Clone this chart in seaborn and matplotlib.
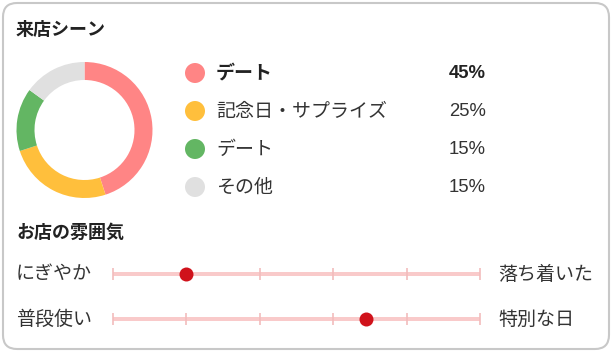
import matplotlib
matplotlib.use("Agg")
import matplotlib.pyplot as plt
import seaborn as sns
import pandas as pd
from matplotlib.patches import FancyBboxPatch

# data
scene_labels = ["デート", "記念日・サプライズ", "デート", "その他"]
scene_shares = [45, 25, 15, 15]
scene_colors = ["#ff8585", "#ffbf3c", "#63b663", "#e0e0e0"]

mood_left = ["にぎやか", "普段使い"]
mood_right = ["落ち着いた", "特別な日"]
mood_values = [1.0, 3.45]   # position on a 0-5 scale
scale_ticks = [0, 1, 2, 3, 4, 5]

sns.set_style("white")
plt.rcParams["font.family"] = ["Noto Sans CJK JP", "DejaVu Sans"]

W, H = 612, 352
fig = plt.figure(figsize=(W / 100, H / 100), dpi=100)
fig.patch.set_facecolor("white")

def px_axes(x0, y0, w, h):
    return fig.add_axes([x0 / W, 1 - (y0 + h) / H, w / W, h / H])

# base layer in pixel coords
ax = px_axes(0, 0, W, H)
ax.set_xlim(0, W)
ax.set_ylim(H, 0)
ax.axis("off")
card = FancyBboxPatch((3, 3), W - 6, H - 6,
                      boxstyle="round,pad=0,rounding_size=14",
                      fc="white", ec="#c8c8c8", lw=1.5)
ax.add_patch(card)

pt = 0.72  # px -> pt
dark = "#222222"
text = "#333333"
ax.text(16, 30, "来店シーン", fontsize=18 * pt, fontweight="bold",
        color=dark, va="center", ha="left")
ax.text(16, 233, "お店の雰囲気", fontsize=18 * pt, fontweight="bold",
        color=dark, va="center", ha="left")

# donut
cx, cy, r = 84.5, 130, 68
ax_pie = px_axes(cx - r, cy - r, 2 * r, 2 * r)
ax_pie.pie(scene_shares, colors=scene_colors, startangle=90,
           counterclock=False, radius=1,
           wedgeprops=dict(width=18 / r, edgecolor="none"))
ax_pie.set_xlim(-1, 1)
ax_pie.set_ylim(-1, 1)
ax_pie.set_aspect("equal")
ax_pie.axis("off")

# legend list
leg = pd.DataFrame({"label": scene_labels, "share": scene_shares})
leg["row"] = range(len(leg))
leg["x"] = 15
ax_leg = px_axes(180, 54, 320, 152)
ax_leg.set_xlim(0, 320)
ax_leg.set_ylim(len(leg) - 0.5, -0.5)
ax_leg.axis("off")
sns.scatterplot(data=leg, x="x", y="row", hue="row",
                palette=scene_colors, ax=ax_leg, legend=False,
                s=(20 * pt) ** 2, linewidth=0, clip_on=False)
for i, rowd in leg.iterrows():
    w = "bold" if i == 0 else "normal"
    col = dark if i == 0 else text
    ax_leg.text(36, rowd["row"], rowd["label"], fontsize=19 * pt,
                fontweight=w, color=col, va="center", ha="left")
    ax_leg.text(306, rowd["row"], f"{rowd['share']}%", fontsize=18.5 * pt,
                fontweight=w, color=col, va="center", ha="right",
                family=["Liberation Sans", "DejaVu Sans"])

# mood sliders
rows = list(range(len(mood_values)))
ax_s = px_axes(113, 251.5, 367, 90)
ax_s.set_xlim(scale_ticks[0], scale_ticks[-1])
ax_s.set_ylim(len(rows) - 0.5, -0.5)
ax_s.axis("off")
ax_s.hlines(rows, scale_ticks[0], scale_ticks[-1], color="#f9caca",
            lw=4 * pt, zorder=1)
for rr in rows:
    ax_s.vlines(scale_ticks, rr - 0.14, rr + 0.14, color="#f2bcbc",
                lw=1.2, zorder=1, clip_on=False)
sns.scatterplot(x=mood_values, y=rows, ax=ax_s, color="#d0121b",
                s=(14 * pt) ** 2, linewidth=0, zorder=3, clip_on=False)
for rr in rows:
    ax_s.text(-97 / 73.4, rr, mood_left[rr], fontsize=19 * pt,
              color=text, va="center", ha="left")
    ax_s.text(5 + 18 / 73.4, rr, mood_right[rr], fontsize=19 * pt,
              color=text, va="center", ha="left")

fig.savefig("out.png", dpi=100)
